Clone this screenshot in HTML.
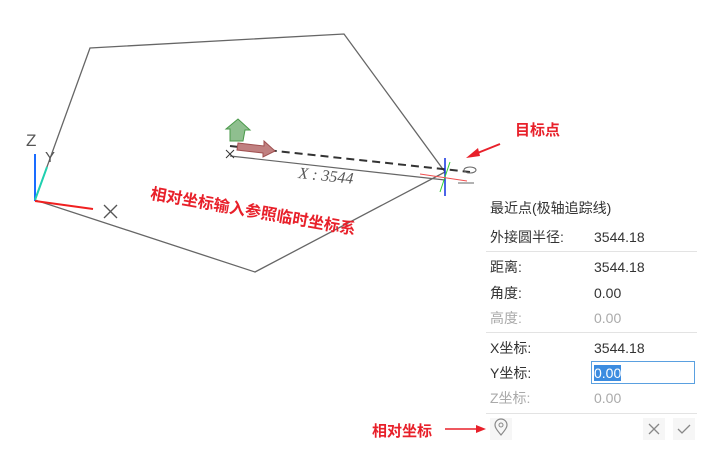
<!DOCTYPE html>
<html><head><meta charset="utf-8"><style>
body{margin:0;width:726px;height:470px;background:#fff;position:relative;overflow:hidden;font-family:"Liberation Sans","Noto Sans CJK SC",sans-serif}
.t{position:absolute;font-size:14px;color:#333;white-space:nowrap;line-height:16px}
.g{color:#aaa}
.sep{position:absolute;left:486px;width:211px;height:1px;background:#e3e3e3}
.red{position:absolute;color:#e8202a;font-weight:bold;font-size:15px;white-space:nowrap}
</style></head><body>
<svg width="726" height="470" style="position:absolute;left:0;top:0">
<polygon points="90,48 344,34 445,172 255,272 35,200" fill="none" stroke="#666" stroke-width="1.3"/>
<line x1="230" y1="156" x2="445" y2="180" stroke="#666" stroke-width="1.2"/>
<line x1="230" y1="146" x2="470" y2="172" stroke="#333" stroke-width="2" stroke-dasharray="8,5"/>
<line x1="226" y1="150" x2="234" y2="158" stroke="#333"/><line x1="226" y1="158" x2="234" y2="150" stroke="#333"/>
<polygon points="238,143 264,146 264,141 275,151 263,157 263,153 237,150" fill="#c08080" stroke="#a05050"/>
<polygon points="230,141 230,129 226,129 238,119 250,130 245,130 243,141" fill="#8fbf8f" stroke="#4a9a4a"/>
<text x="298" y="178" font-family="Liberation Serif,serif" font-style="italic" font-size="16" fill="#555" transform="rotate(6 298 178)">X : 3544</text>
<line x1="445" y1="158" x2="445" y2="196" stroke="#1030e0" stroke-width="1.5"/>
<line x1="440" y1="192" x2="450" y2="162" stroke="#30d030" stroke-width="1"/>
<line x1="420" y1="174" x2="467" y2="181" stroke="#f05050" stroke-width="1"/>
<ellipse cx="470" cy="170" rx="6" ry="3" fill="none" stroke="#666"/>
<line x1="458" y1="183" x2="474" y2="183" stroke="#666"/>
<line x1="500" y1="144" x2="470" y2="156" stroke="#e8202a" stroke-width="2"/>
<polygon points="466,158 478,148 480,156" fill="#e8202a"/>
<text x="515" y="135" font-size="15" font-weight="bold" fill="#e8202a" font-family="Liberation Sans,Noto Sans CJK SC,sans-serif">目标点</text>
<line x1="35" y1="154" x2="35" y2="201" stroke="#1a6cff" stroke-width="2"/>
<line x1="35" y1="200" x2="47" y2="167" stroke="#20d0b0" stroke-width="2"/>
<line x1="35" y1="201" x2="93" y2="209" stroke="#f02020" stroke-width="2"/>
<text x="26" y="146" font-size="17" fill="#555" font-family="Liberation Sans,sans-serif">Z</text>
<text x="45" y="162" font-size="15" fill="#555" font-family="Liberation Sans,sans-serif">Y</text>
<line x1="104" y1="205" x2="117" y2="218" stroke="#555" stroke-width="1.3"/><line x1="104" y1="218" x2="117" y2="205" stroke="#555" stroke-width="1.3"/>
<line x1="445" y1="429" x2="478" y2="429" stroke="#e8202a" stroke-width="1.5"/>
<polygon points="486,429 476,425 476,433" fill="#e8202a"/>
<rect x="490" y="418" width="22" height="22" fill="#f6f6f6"/>
<path d="M501,435 C496,429 495,427 495,425 A6,6 0 0 1 507,425 C507,427 506,429 501,435Z" fill="none" stroke="#888" stroke-width="1.2"/>
<circle cx="501" cy="425" r="2" fill="none" stroke="#888"/>
<rect x="643" y="418" width="22" height="22" fill="#f6f6f6"/><rect x="673" y="418" width="22" height="22" fill="#f6f6f6"/>
<path d="M649,424 l10,10 M659,424 l-10,10" stroke="#888" stroke-width="1.3"/>
<path d="M678,429 l4,4 l8,-8" stroke="#888" stroke-width="1.3" fill="none"/>
</svg>
<div class="red" style="left:153px;top:180px;font-size:16px;transform:rotate(10deg);transform-origin:0 0">相对坐标输入参照临时坐标系</div>
<div class="red" style="left:372px;top:420px">相对坐标</div>
<div class="t" style="left:490px;top:200px">最近点(极轴追踪线)</div>
<div class="t" style="left:490px;top:229px">外接圆半径:</div><div class="t" style="left:594px;top:229px">3544.18</div>
<div class="sep" style="top:251px"></div>
<div class="t" style="left:490px;top:259px">距离:</div><div class="t" style="left:594px;top:259px">3544.18</div>
<div class="t" style="left:490px;top:285px">角度:</div><div class="t" style="left:594px;top:285px">0.00</div>
<div class="t g" style="left:490px;top:310px">高度:</div><div class="t g" style="left:594px;top:310px">0.00</div>
<div class="sep" style="top:332px"></div>
<div class="t" style="left:490px;top:340px">X坐标:</div><div class="t" style="left:594px;top:340px">3544.18</div>
<div class="t" style="left:490px;top:365px">Y坐标:</div>
<div style="position:absolute;left:591px;top:361px;width:102px;height:21px;border:1px solid #5aa0e0"></div>
<div class="t" style="left:594px;top:365px;background:#3c8ce0;color:#fff">0.00</div>
<div class="t g" style="left:490px;top:390px">Z坐标:</div><div class="t g" style="left:594px;top:390px">0.00</div>
<div class="sep" style="top:413px"></div>
</body></html>
